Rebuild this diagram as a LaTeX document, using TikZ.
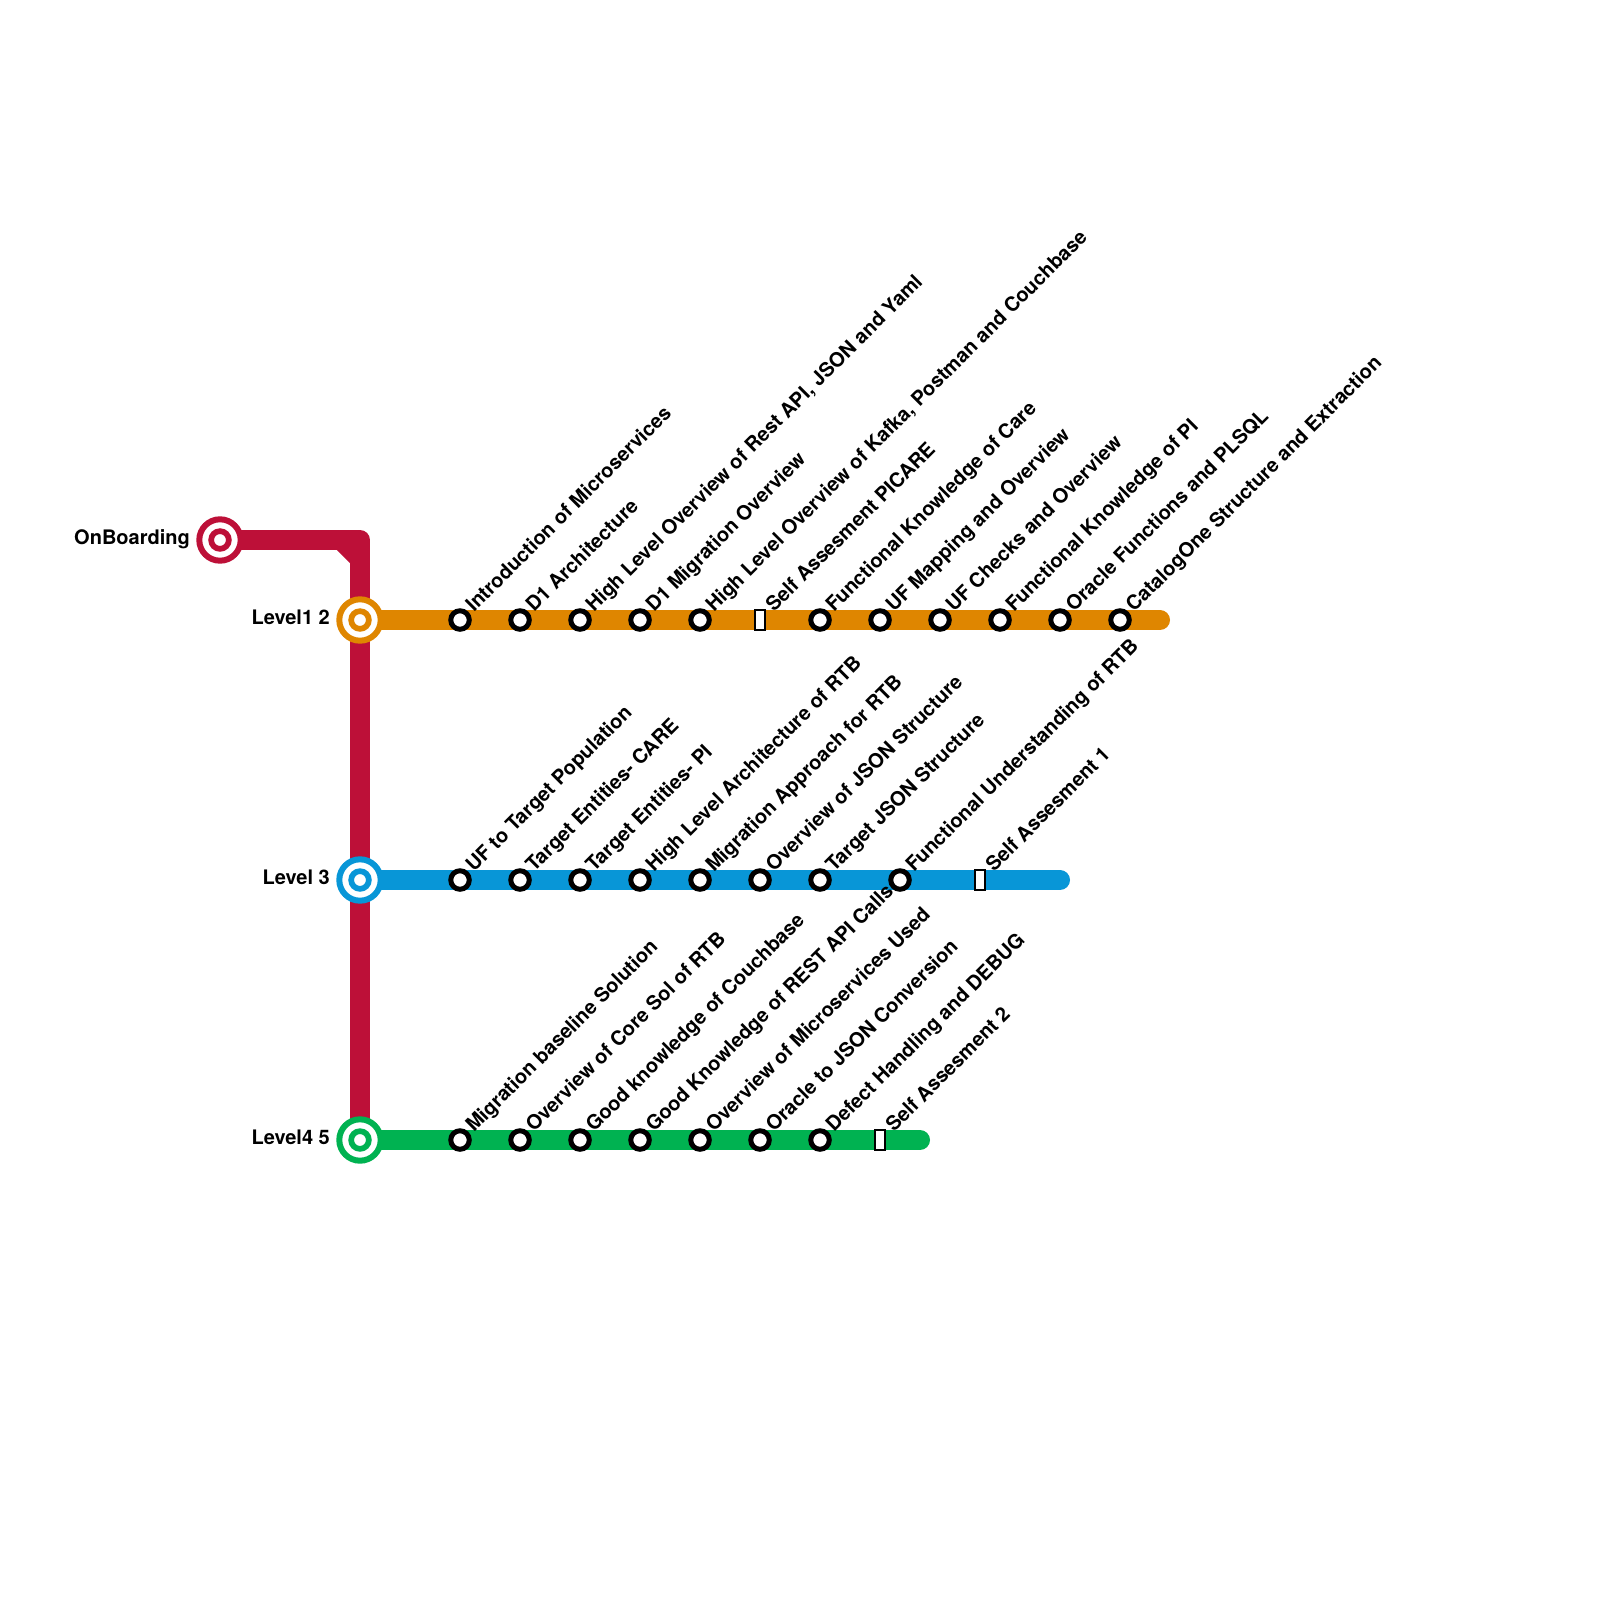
\documentclass[tikz,border=0pt]{standalone}
\usepackage{fontspec}
\setmainfont{TeX Gyre Heros}
\definecolor{lred}{HTML}{BD1038}
\definecolor{lorange}{HTML}{DF8600}
\definecolor{lblue}{HTML}{0896D7}
\definecolor{lgreen}{HTML}{00B251}
\tikzset{
  metro/.style={line width=20pt,line cap=round,line join=round,draw=#1},
  hubring/.style={circle,draw=#1,fill=white,line width=6pt,minimum size=41.4pt,inner sep=0pt,outer sep=0pt},
  hubcore/.style={circle,draw=#1,fill=white,line width=5.7pt,minimum size=17.7pt,inner sep=0pt,outer sep=0pt},
  stop/.style={circle,draw=black,fill=white,line width=5pt,minimum size=18.5pt,inner sep=0pt,outer sep=0pt},
  test/.style={rectangle,draw=black,fill=white,line width=2pt,minimum width=9.5pt,minimum height=20.5pt,inner sep=0pt,outer sep=0pt},
  tag/.style={anchor=base west,rotate=45,inner sep=0pt,font=\fontsize{20pt}{21pt}\selectfont\bfseries},
  hubtag/.style={anchor=base east,inner sep=0pt,font=\fontsize{20pt}{21pt}\selectfont\bfseries}
}
\newcommand{\hubst}[6]{% name x y colour label labelx
  \node[hubring=#4] (#1) at (#2,#3) {};
  \node[hubcore=#4] (#1c) at (#2,#3) {};
  \node[hubtag] (#1t) at (#6,#3+4.3) {#5};
}
\newcommand{\stopst}[4]{% name x y label
  \node[stop] (#1) at (#2,#3) {};
  \node[tag] (#1t) at (#2+14,#3-7) {#4};
}
\newcommand{\testst}[4]{% name x y label
  \node[test] (#1) at (#2,#3) {};
  \node[tag] (#1t) at (#2+14,#3-7) {#4};
}
\begin{document}
\begin{tikzpicture}[x=1pt,y=-1pt]
\useasboundingbox[fill=white] (0,0) rectangle (1600,1600);
% anchor points
\coordinate (onbp) at (220,540);
\coordinate (bend) at (360,540);
\coordinate (lfourp) at (360,1140);
\coordinate (lonep) at (360,620);
\coordinate (lthreep) at (360,880);
\coordinate (oend) at (1160,620);
\coordinate (bend3) at (1060,880);
\coordinate (gend) at (920,1140);
% lines
\draw[metro=lred] (onbp) -- (bend) -- (lfourp);
\fill[lred] (336,549) -- (351,549) -- (351,564) -- cycle;
\draw[metro=lorange] (lonep) -- (oend);
\draw[metro=lblue] (lthreep) -- (bend3);
\draw[metro=lgreen] (lfourp) -- (gend);
% hubs
\hubst{onb}{220}{540}{lred}{OnBoarding}{190}
\hubst{lone}{360}{620}{lorange}{Level1 2}{330}
\hubst{lthree}{360}{880}{lblue}{Level 3}{330}
\hubst{lfour}{360}{1140}{lgreen}{Level4 5}{330}
% level 1 2
\stopst{a1}{460}{620}{Introduction of Microservices}
\stopst{a2}{520}{620}{D1 Architecture}
\stopst{a3}{580}{620}{High Level Overview of Rest API, JSON and Yaml}
\stopst{a4}{640}{620}{D1 Migration Overview}
\stopst{a5}{700}{620}{High Level Overview of Kafka, Postman and Couchbase}
\testst{a6}{760}{620}{Self Assesment PICARE}
\stopst{a7}{820}{620}{Functional Knowledge of Care}
\stopst{a8}{880}{620}{UF Mapping and Overview}
\stopst{a9}{940}{620}{UF Checks and Overview}
\stopst{a10}{1000}{620}{Functional Knowledge of PI}
\stopst{a11}{1060}{620}{Oracle Functions and PLSQL}
\stopst{a12}{1120}{620}{CatalogOne Structure and Extraction}
% level 3
\stopst{b1}{460}{880}{UF to Target Population}
\stopst{b2}{520}{880}{Target Entities- CARE}
\stopst{b3}{580}{880}{Target Entities- PI}
\stopst{b4}{640}{880}{High Level Architecture of RTB}
\stopst{b5}{700}{880}{Migration Approach for RTB}
\stopst{b6}{760}{880}{Overview of JSON Structure}
\stopst{b7}{820}{880}{Target JSON Structure}
\stopst{b8}{900}{880}{Functional Understanding of RTB}
\testst{b9}{980}{880}{Self Assesment 1}
% level 4 5
\stopst{c1}{460}{1140}{Migration baseline Solution}
\stopst{c2}{520}{1140}{Overview of Core Sol of RTB}
\stopst{c3}{580}{1140}{Good knowledge of Couchbase}
\stopst{c4}{640}{1140}{Good Knowledge of REST API Calls}
\stopst{c5}{700}{1140}{Overview of Microservices Used}
\stopst{c6}{760}{1140}{Oracle to JSON Conversion}
\stopst{c7}{820}{1140}{Defect Handling and DEBUG}
\testst{c8}{880}{1140}{Self Assesment 2}
\end{tikzpicture}
\end{document}
